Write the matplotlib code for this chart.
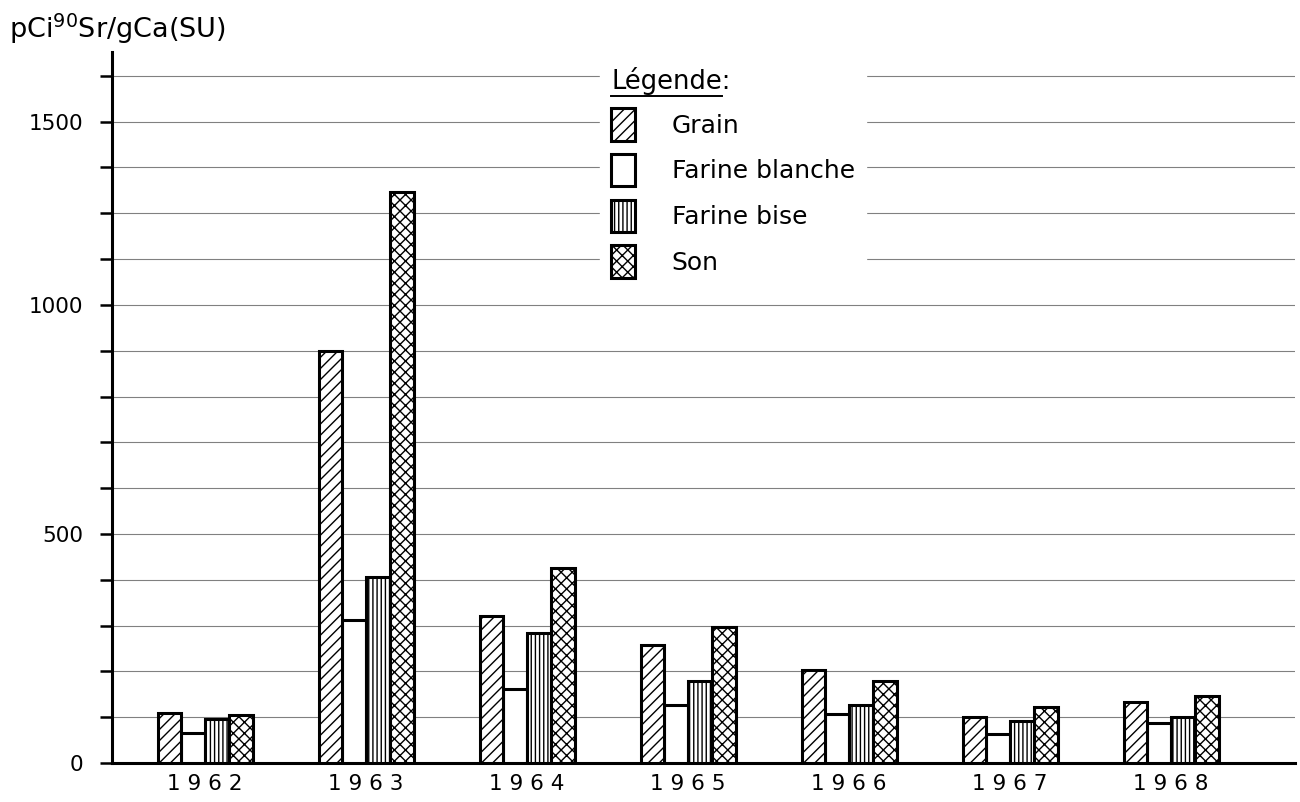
import numpy as np
import matplotlib
matplotlib.use("Agg")
import matplotlib.pyplot as plt
from matplotlib.lines import Line2D

plt.rcParams['font.family'] = ['DejaVu Sans']
plt.rcParams['mathtext.default'] = 'regular'
plt.rcParams['hatch.linewidth'] = 1.0

# données (pCi 90Sr / g Ca)
annees = [1962, 1963, 1964, 1965, 1966, 1967, 1968]
grain = [110, 900, 320, 258, 202, 100, 133]
farine_blanche = [65, 312, 162, 127, 108, 63, 87]
farine_bise = [97, 405, 283, 178, 127, 92, 101]
son = [105, 1247, 425, 296, 178, 122, 147]

series = ["Grain", "Farine blanche", "Farine bise", "Son"]
hachures = ["///", "", "||||", "xxx"]

# graduations de l'axe y (l'étiquette "1500" est placée comme sur l'original)
y_ticks = list(range(0, 1600, 100))
y_labels = {0: "0", 500: "500", 1000: "1000", 1400: "1500"}

fig = plt.figure(figsize=(13, 8.02), dpi=100)
ax = fig.add_axes([0.0862, 0.0486, 0.910, 0.8865])

x = np.arange(len(annees))
w = 0.1475
valeurs = [grain, farine_blanche, farine_bise, son]
ordre = [1, 0, 2, 3]  # blanche dessous pour que ses bords soient couverts
barres = {}
for i in ordre:
    b = ax.bar(x + (i - 1.5) * w, valeurs[i], width=w, color="white",
               edgecolor="black", linewidth=2.2, hatch=hachures[i],
               label=series[i], zorder=3)
    barres[i] = b

ax.set_xlim(-0.578, 6.77)
ax.set_ylim(0, 1552)

ax.set_yticks(y_ticks)
ax.set_yticklabels([y_labels.get(t, "") for t in y_ticks], fontsize=15.5)
ax.tick_params(axis="y", direction="out", length=8.5, width=1.8, pad=12)
ax.set_xticks(x)
ax.set_xticklabels([" ".join(str(a)) for a in annees], fontsize=15.5)
ax.tick_params(axis="x", length=0, pad=8)

ax.yaxis.grid(True, color="0.5", linewidth=0.8)
ax.set_axisbelow(True)

for s in ["top", "right"]:
    ax.spines[s].set_visible(False)
ax.spines["left"].set_linewidth(2.2)
ax.spines["bottom"].set_linewidth(2.2)

fig.text(0.007, 0.953, "pCi$^{90}$Sr/gCa(SU)", fontsize=19.5, va="baseline")

leg = ax.legend([barres[i] for i in range(4)], series, loc="upper left",
                bbox_to_anchor=(0.452, 0.946), bbox_transform=fig.transFigure,
                title="Légende:", title_fontsize=18.5, fontsize=18,
                frameon=True, framealpha=1, edgecolor="white", fancybox=False,
                handlelength=0.96, handleheight=1.62, labelspacing=0.53,
                handletextpad=1.45, borderpad=0.45, alignment="left")
leg.set_zorder(5)

# soulignement du mot "Légende"
fig.canvas.draw()
r = fig.canvas.get_renderer()
tt = leg.get_title()
bb = tt.get_window_extent(r)
tmp = fig.text(0, 0, ":", fontsize=18.5)
cw = tmp.get_window_extent(r).width
tmp.remove()
inv = fig.transFigure.inverted()
(x0, y0) = inv.transform((bb.x0, bb.y0 - 1))
(x1, _) = inv.transform((bb.x1 - cw, bb.y0 - 1))
fig.add_artist(Line2D([x0, x1], [y0, y0], color="black", lw=1.4, zorder=6))

fig.savefig("out.png", dpi=100, facecolor="white")
